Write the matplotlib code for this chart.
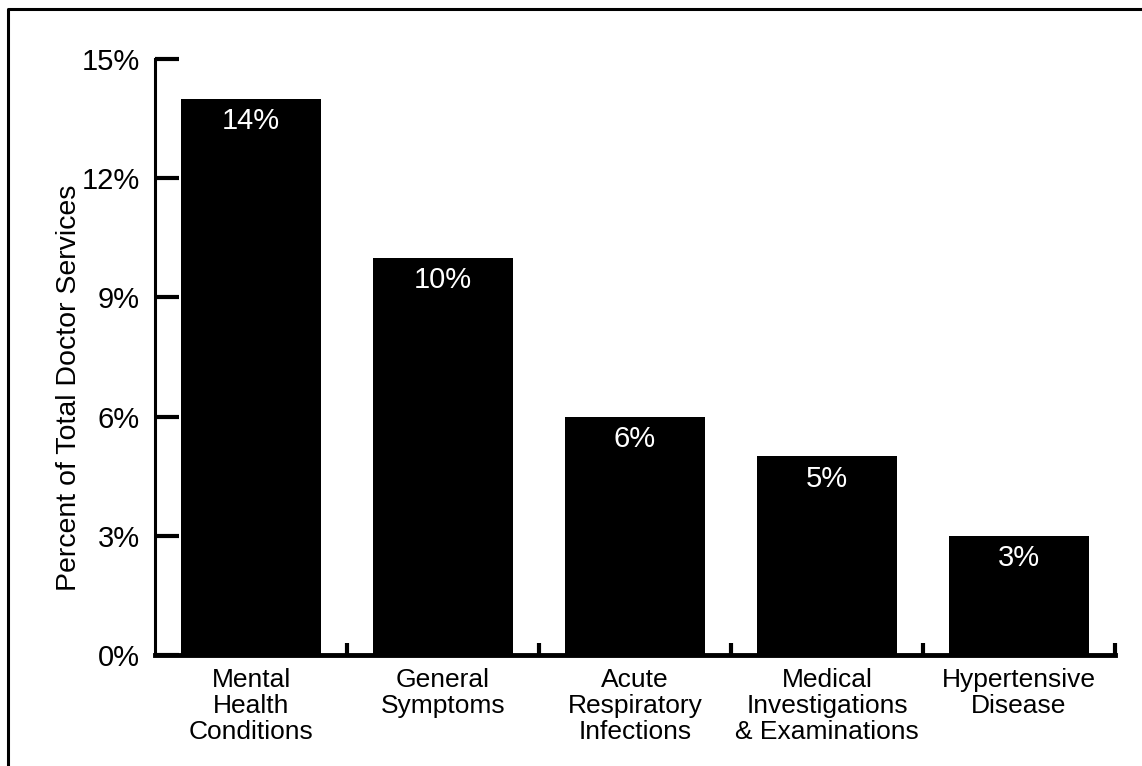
import matplotlib.pyplot as plt
from matplotlib.lines import Line2D

# Share of total doctor services by condition group
categories = ["Mental\nHealth\nConditions", "General\nSymptoms", "Acute\nRespiratory\nInfections",
              "Medical\nInvestigations\n& Examinations", "Hypertensive\nDisease"]
values = [14, 10, 6, 5, 3]
yticks = [0, 3, 6, 9, 12, 15]

plt.rcParams['font.family'] = ['Liberation Sans', 'DejaVu Sans']

fig = plt.figure(figsize=(11.42, 7.66), dpi=100)
ax = fig.add_axes([155/1142, 1-655/766, 960/1142, 596/766])

x = list(range(len(values)))
ax.bar(x, values, width=0.73, color='black')

for xi, v in zip(x, values):
    ax.annotate(f"{v}%", (xi, v), xytext=(0, -6), textcoords='offset points',
                ha='center', va='top', color='white', fontsize=21)

ax.set_xlim(-0.5, 4.5)
ax.set_ylim(0, 15)
ax.set_yticks(yticks)
ax.set_yticklabels([f"{t}%" for t in yticks], fontsize=21)
ax.tick_params(axis='y', direction='in', length=17, width=3, pad=11)

# category names sit under the bars, ticks mark the boundaries
ax.set_xticks([i + 0.5 for i in x])
ax.set_xticklabels([])
ax.tick_params(axis='x', direction='in', length=9, width=3)
for xi, name in zip(x, categories):
    ax.text(xi, -0.32, name, ha='center', va='top', fontsize=19, linespacing=1.12,
            transform=ax.transData)

ax.set_ylabel("Percent of Total Doctor Services", fontsize=20.5)
ax.yaxis.set_label_coords(-0.076, 0.449)

for side in ['top', 'right']:
    ax.spines[side].set_visible(False)
ax.spines['left'].set_linewidth(2.2)
ax.spines['bottom'].set_linewidth(3.5)

# frame around the figure (top and left edges)
fig.add_artist(Line2D([8/1142, 8/1142, 1.0], [0.0, 1-9/766, 1-9/766],
                      transform=fig.transFigure, color='black', linewidth=2.2))

fig.savefig("out.png", dpi=100)
